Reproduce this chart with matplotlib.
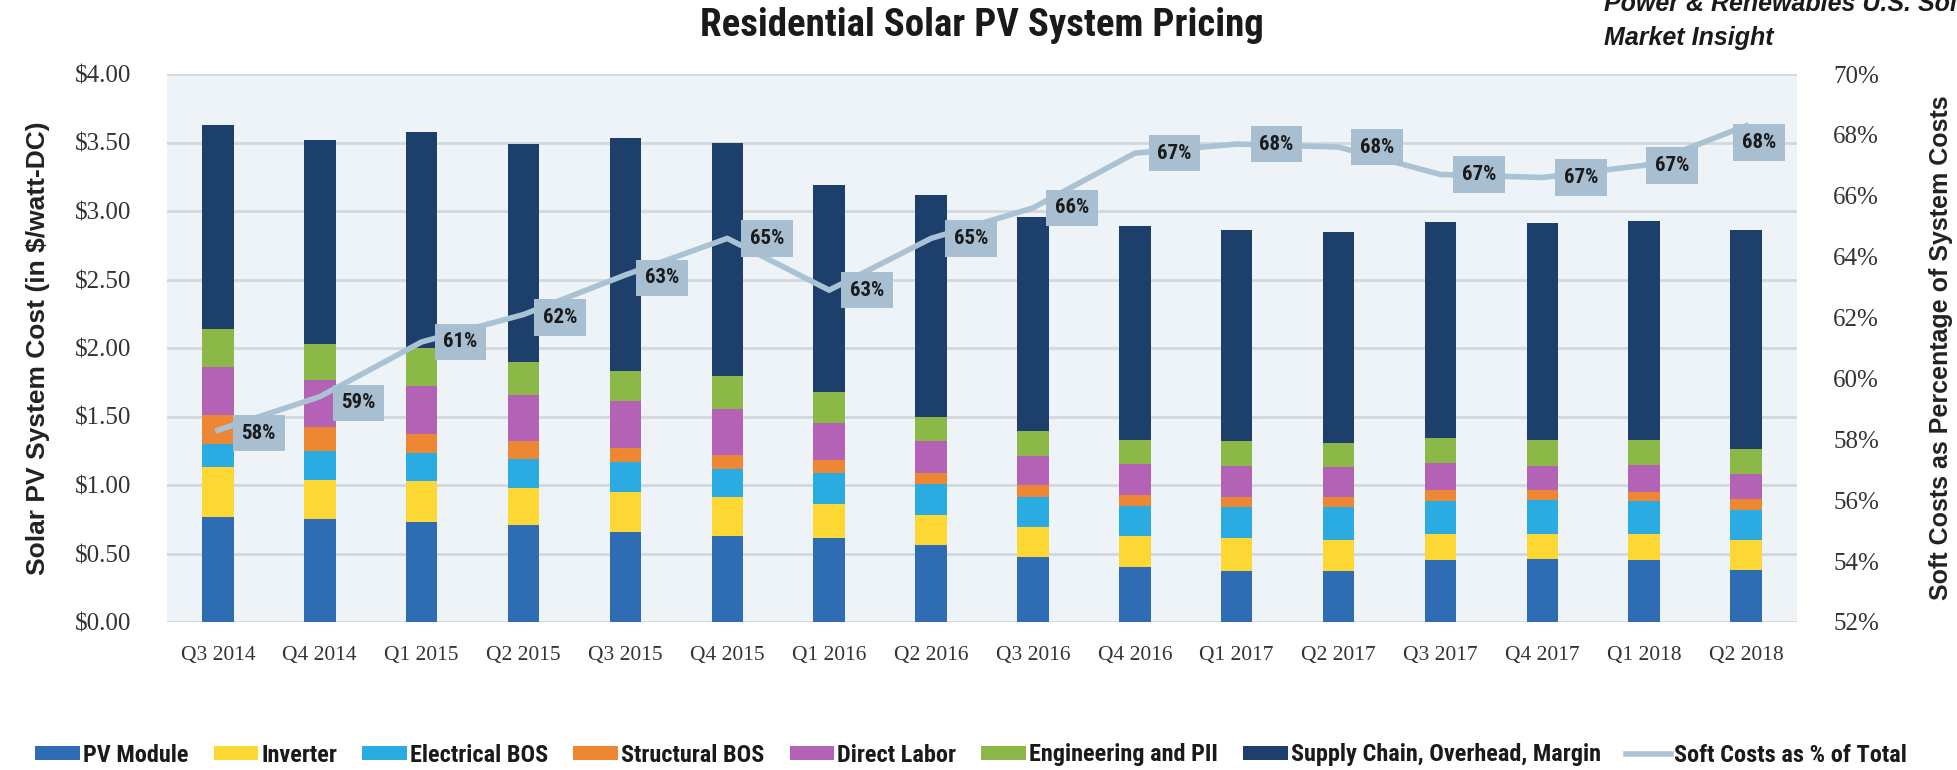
import matplotlib
matplotlib.use("Agg")
import matplotlib.pyplot as plt
from matplotlib import font_manager as fm
from matplotlib.patches import Patch
from matplotlib.lines import Line2D
import numpy as np

# ---------------- data ----------------
quarters = ["Q3 2014", "Q4 2014", "Q1 2015", "Q2 2015", "Q3 2015", "Q4 2015",
            "Q1 2016", "Q2 2016", "Q3 2016", "Q4 2016", "Q1 2017", "Q2 2017",
            "Q3 2017", "Q4 2017", "Q1 2018", "Q2 2018"]
pv_module       = [0.77, 0.75, 0.73, 0.71, 0.66, 0.63, 0.61, 0.56, 0.475, 0.40, 0.37, 0.37, 0.45, 0.46, 0.45, 0.38]
inverter        = [0.36, 0.29, 0.30, 0.27, 0.29, 0.28, 0.25, 0.22, 0.22, 0.23, 0.24, 0.23, 0.195, 0.18, 0.19, 0.22]
electrical_bos  = [0.17, 0.21, 0.20, 0.21, 0.22, 0.21, 0.23, 0.23, 0.215, 0.22, 0.23, 0.24, 0.24, 0.25, 0.24, 0.22]
structural_bos  = [0.21, 0.17, 0.14, 0.13, 0.10, 0.10, 0.09, 0.08, 0.09, 0.08, 0.075, 0.075, 0.08, 0.07, 0.07, 0.08]
direct_labor    = [0.35, 0.35, 0.35, 0.34, 0.34, 0.335, 0.27, 0.23, 0.215, 0.22, 0.225, 0.22, 0.195, 0.18, 0.195, 0.18]
engineering_pii = [0.28, 0.26, 0.28, 0.24, 0.22, 0.24, 0.23, 0.18, 0.18, 0.18, 0.18, 0.17, 0.18, 0.19, 0.18, 0.18]
supply_chain    = [1.49, 1.49, 1.58, 1.59, 1.70, 1.70, 1.51, 1.62, 1.56, 1.56, 1.54, 1.545, 1.58, 1.58, 1.60, 1.60]
soft_cost_pct   = [58.3, 59.4, 61.2, 62.1, 63.4, 64.6, 62.9, 64.6, 65.6, 67.4, 67.7, 67.6, 66.7, 66.6, 67.0, 68.3]

series_names = ["PV Module", "Inverter", "Electrical BOS", "Structural BOS",
                "Direct Labor", "Engineering and PII", "Supply Chain, Overhead, Margin"]
line_name = "Soft Costs as % of Total"
left_ticks = [0.0, 0.5, 1.0, 1.5, 2.0, 2.5, 3.0, 3.5, 4.0]
right_ticks = [52, 54, 56, 58, 60, 62, 64, 66, 68, 70]

# ---------------- style ----------------
colors = ["#2E6DB4", "#FDD835", "#2AACE2", "#EE8733", "#B362B6", "#8BB847", "#1C3F6B"]
line_color = "#A9C2D4"
box_color = "#A7BFD0"
plot_bg = "#EEF3F7"
grid_color = "#D3D8DC"
label_dx = [0.40, 0.38, 0.38, 0.36, 0.36, 0.39, 0.37, 0.39, 0.38, 0.39, 0.39, 0.38, 0.38, 0.38, 0.27, 0.13]
label_dy = [-0.1, -0.2, 0.0, -0.1, -0.1, 0.0, 0.0, 0.0, 0.0, 0.0, 0.0, 0.0, 0.0, 0.0, 0.0, -0.55]

available = {f.name for f in fm.fontManager.ttflist}
def pick(*names):
    for n in names:
        if n in available:
            return n
    return "DejaVu Sans"

cond = pick("Liberation Sans Narrow", "Roboto Condensed", "Roboto", "Liberation Sans")
serif = pick("Liberation Serif", "DejaVu Serif")
sans = pick("Liberation Sans", "Arimo", "DejaVu Sans")

W, H = 1957, 770
fig = plt.figure(figsize=(W / 100, H / 100), dpi=100)
fig.patch.set_facecolor("white")

left, right, top, bottom = 167, 1797, 74, 622
ax = fig.add_axes([left / W, 1 - bottom / H, (right - left) / W, (bottom - top) / H])
ax.set_facecolor(plot_bg)

x = np.arange(len(quarters))
bottoms = np.zeros(len(quarters))
all_series = [pv_module, inverter, electrical_bos, structural_bos,
              direct_labor, engineering_pii, supply_chain]
for vals, c in zip(all_series, colors):
    ax.bar(x, vals, width=0.31, bottom=bottoms, color=c, edgecolor="none", zorder=2)
    bottoms += np.array(vals)

ax.set_xlim(-0.5, len(quarters) - 0.5)
ax.set_ylim(0, 4.0)
ax.set_yticks(left_ticks)
ax.set_yticklabels([f"${v:.2f}" for v in left_ticks], fontfamily=serif, fontsize=18, color="#333333")
ax.set_xticks(x)
ax.set_xticklabels(quarters, fontfamily=serif, fontsize=15.5, color="#333333")
ax.tick_params(axis="both", length=0)
ax.tick_params(axis="y", pad=26)
ax.tick_params(axis="x", pad=17)
ax.grid(axis="y", color=grid_color, linewidth=2, zorder=0)
ax.set_axisbelow(True)
for s in ax.spines.values():
    s.set_visible(False)
ax.set_ylabel("Solar PV System Cost (in $/watt-DC)", fontfamily=sans, fontweight="bold",
              fontsize=19, color="#222222", labelpad=18)

ax2 = ax.twinx()
ax2.set_ylim(52, 70)
ax2.set_yticks(right_ticks)
ax2.set_yticklabels([f"{v}%" for v in right_ticks], fontfamily=serif, fontsize=18, color="#333333")
ax2.tick_params(axis="y", length=0, pad=26)
for s in ax2.spines.values():
    s.set_visible(False)
ax2.set_ylabel("Soft Costs as Percentage of System Costs", fontfamily=sans, fontweight="bold",
               fontsize=18, color="#222222", labelpad=36)

ax2.plot(x, soft_cost_pct, color=line_color, linewidth=4, solid_joinstyle="round", zorder=3)
for xi, v, dx, dy in zip(x, soft_cost_pct, label_dx, label_dy):
    ax2.text(xi + dx, v + dy, f"{v:.0f}%", ha="center", va="center", fontsize=15,
             fontweight="bold", fontfamily=cond, color="#1a1a1a", zorder=4,
             bbox=dict(boxstyle="square,pad=0.42", fc=box_color, ec="none"))

fig.text(982 / W, 1 - 26 / H, "Residential Solar PV System Pricing", ha="center", va="center",
         fontsize=28, fontweight="bold", fontfamily=cond, color="#1a1a1a")
fig.text(1604 / W, 1 - 11 / H, "Power & Renewables U.S. Solar", ha="left", va="baseline",
         fontsize=18, fontweight="bold", fontstyle="italic", fontfamily=sans, color="#1a1a1a")
fig.text(1604 / W, 1 - 45 / H, "Market Insight", ha="left", va="baseline",
         fontsize=18, fontweight="bold", fontstyle="italic", fontfamily=sans, color="#1a1a1a")

handles = [Patch(facecolor=c, edgecolor="none") for c in colors]
handles.append(Line2D([0], [0], color=line_color, linewidth=4))
leg = fig.legend(handles, series_names + [line_name], loc="center", ncol=8,
                 bbox_to_anchor=(971 / W, 1 - 755 / H), frameon=False,
                 prop=dict(family=cond, weight="bold", size=17.5),
                 handlelength=1.85, handleheight=0.5, handletextpad=0.12, columnspacing=1.03)
for t in leg.get_texts():
    t.set_color("#1a1a1a")

fig.savefig("out.png", dpi=100, facecolor="white")
